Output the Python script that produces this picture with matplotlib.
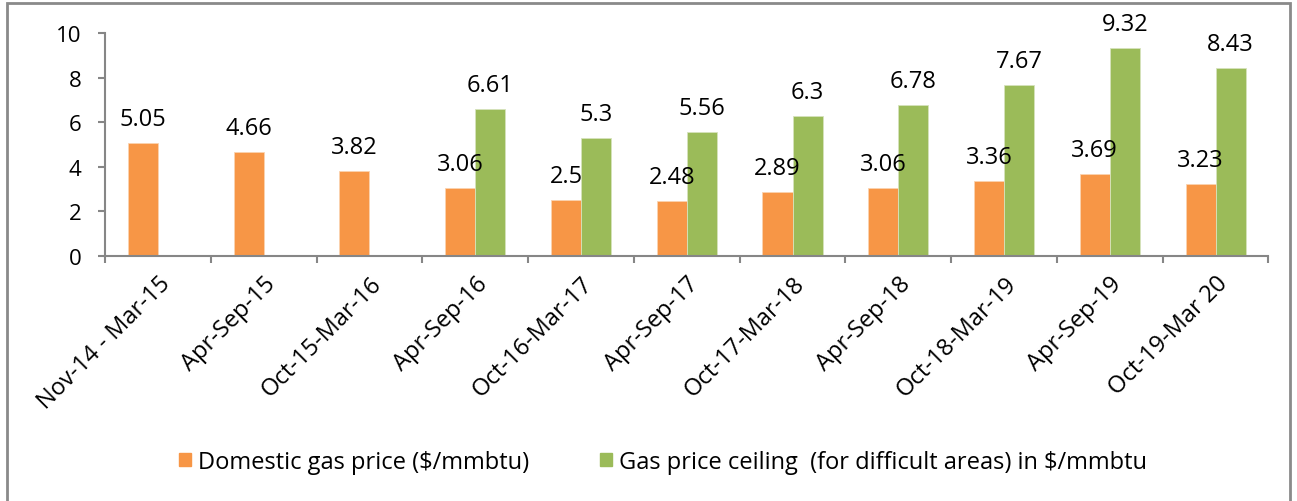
import numpy as np
import matplotlib
matplotlib.use('Agg')
from matplotlib import pyplot as plt
from matplotlib.patches import Patch, Rectangle

    #  Chart data

periods = ['Nov-14 - Mar-15', 'Apr-Sep-15', 'Oct-15-Mar-16', 'Apr-Sep-16', 'Oct-16-Mar-17',
           'Apr-Sep-17', 'Oct-17-Mar-18', 'Apr-Sep-18', 'Oct-18-Mar-19', 'Apr-Sep-19', 'Oct-19-Mar 20']
domesticPrice = [5.05, 4.66, 3.82, 3.06, 2.5, 2.48, 2.89, 3.06, 3.36, 3.69, 3.23]
ceilingPrice = [None, None, None, 6.61, 5.3, 5.56, 6.3, 6.78, 7.67, 9.32, 8.43]

domesticName = 'Domestic gas price ($/mmbtu)'
ceilingName = 'Gas price ceiling  (for difficult areas) in $/mmbtu'

orange = '#F79646'
green = '#9BBB59'
axisGray = '#868686'

plt.rcParams['font.family'] = ['Open Sans', 'DejaVu Sans']

fig = plt.figure(figsize=(12.97, 5.02), dpi=100)
ax = fig.add_axes([0.081, 0.488, 0.897, 0.444])

x = np.arange(len(periods))
w = 0.284

    #  Bars (missing ceiling values are skipped)

ax.bar(x - w / 2, domesticPrice, w, color=orange, edgecolor='#FBD3B0', linewidth=0.6, zorder=2)
for i, v in enumerate(ceilingPrice):
    if v is None:
        continue
    ax.bar(x[i] + w / 2, v, w, color=green, edgecolor='#D6E3BC', linewidth=0.6, zorder=2)

    #  Value labels above each bar

for i, v in enumerate(domesticPrice):
    ax.annotate(str(v), (x[i] - w / 2, v), xytext=(0, 13), textcoords='offset points',
                ha='center', va='baseline', fontsize=17)
for i, v in enumerate(ceilingPrice):
    if v is None:
        continue
    ax.annotate(str(v), (x[i] + w / 2, v), xytext=(0, 13), textcoords='offset points',
                ha='center', va='baseline', fontsize=17)

    #  Axes styling

ax.set_xlim(-0.5, len(periods) - 0.5)
ax.set_ylim(0, 10)
ax.set_yticks([0, 2, 4, 6, 8, 10])
ax.tick_params(axis='y', labelsize=16, length=5, width=1.5, color=axisGray, pad=12)

ax.set_xticks(x)
ax.set_xticklabels(periods, rotation=45, ha='right', rotation_mode='anchor', fontsize=17)
ax.set_xticks(np.arange(len(periods) + 1) - 0.5, minor=True)
ax.tick_params(axis='x', which='major', length=0, pad=11)
ax.tick_params(axis='x', which='minor', length=5, width=1.5, color=axisGray)

for side in ['top', 'right']:
    ax.spines[side].set_visible(False)
for side in ['left', 'bottom']:
    ax.spines[side].set_color(axisGray)
    ax.spines[side].set_linewidth(1.5)

    #  Legend at the bottom

handles = [Patch(color=orange, label=domesticName), Patch(color=green, label=ceilingName)]
fig.legend(handles=handles, loc='center', bbox_to_anchor=(0.511, 0.078), ncol=2, frameon=False,
           fontsize=17, handlelength=0.5, handleheight=0.5, handletextpad=0.3, columnspacing=3.0)

    #  Grey frame around the chart

fig.patches.append(Rectangle((7 / 1297, -0.1), 1283 / 1297, 1.092, transform=fig.transFigure,
                             fill=False, edgecolor='#8A8A8A', linewidth=2))

fig.savefig('out.png', dpi=100)
